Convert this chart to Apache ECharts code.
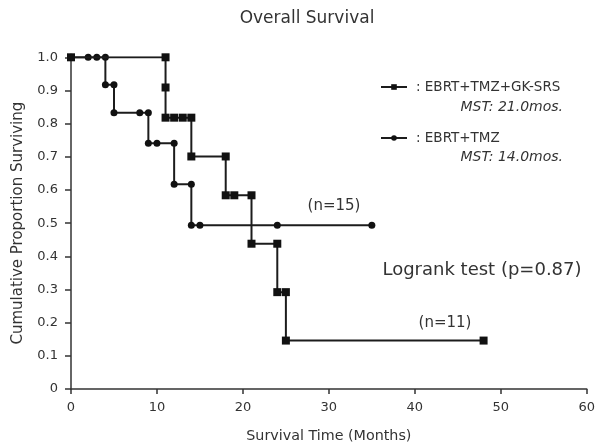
<!DOCTYPE html>
<html>
<head>
<meta charset="utf-8">
<script src="https://cdn.jsdelivr.net/npm/echarts@6/dist/echarts.min.js"></script>
<style>html,body{margin:0;padding:0;background:#fff}#c{width:598px;height:448px}</style>
</head>
<body>
<div id="c"></div>
<script>
// Kaplan-Meier step points (month, cumulative proportion surviving)
const gkMonths = [0, 11, 11, 11, 12, 13, 14, 14, 18, 18, 19, 21, 21, 24, 24, 25, 25, 48];
const gkSurv   = [1.0, 1.0, 0.909, 0.818, 0.818, 0.818, 0.818, 0.701, 0.701, 0.584, 0.584, 0.584, 0.438, 0.438, 0.292, 0.292, 0.146, 0.146];
const ctlMonths = [0, 2, 3, 4, 4, 5, 5, 8, 9, 9, 10, 12, 12, 14, 14, 15, 24, 35];
const ctlSurv   = [1.0, 1.0, 1.0, 1.0, 0.917, 0.917, 0.833, 0.833, 0.833, 0.741, 0.741, 0.741, 0.617, 0.617, 0.494, 0.494, 0.494, 0.494];
const seriesNames = [': EBRT+TMZ+GK-SRS', ': EBRT+TMZ'];
const mstLabels = ['MST: 21.0mos.', 'MST: 14.0mos.'];
const xTicks = [0, 10, 20, 30, 40, 50, 60];
const yTicks = [0, 0.1, 0.2, 0.3, 0.4, 0.5, 0.6, 0.7, 0.8, 0.9, 1.0];

const FONT = 'DejaVu Sans';
const INK = '#333';
const LINE = '#1c1c1c';

const chart = echarts.init(document.getElementById('c'), null, {renderer: 'canvas'});
const zip = (a, b) => a.map((v, i) => [v, b[i]]);

chart.setOption({
  animation: false,
  backgroundColor: '#fff',
  textStyle: {fontFamily: FONT},
  title: {
    text: 'Overall Survival',
    left: 302, top: 5, textAlign: 'center',
    textStyle: {fontFamily: FONT, fontSize: 17, fontWeight: 'normal', color: INK}
  },
  grid: {left: 71, right: 8.5, top: 57.3, bottom: 56.3, containLabel: false},
  legend: {
    orient: 'vertical',
    left: 375, top: 74,
    itemWidth: 26, itemHeight: 7,
    itemGap: 35,
    data: seriesNames,
    textStyle: {fontFamily: FONT, fontSize: 13.5, color: INK, lineHeight: 16, padding: [0, 0, 0, 4]}
  },
  xAxis: {
    type: 'value', min: xTicks[0], max: xTicks[xTicks.length - 1], interval: 10,
    name: 'Survival Time (Months)', nameLocation: 'middle', nameGap: 40,
    nameTextStyle: {fontFamily: FONT, fontSize: 14.3, color: INK},
    axisLine: {show: true, lineStyle: {color: INK, width: 1.5}},
    axisTick: {show: true, length: 5, lineStyle: {color: INK, width: 1.5}},
    axisLabel: {fontFamily: FONT, fontSize: 13, color: INK, margin: 12},
    splitLine: {show: false}
  },
  yAxis: {
    type: 'value', min: yTicks[0], max: yTicks[yTicks.length - 1], interval: 0.1,
    name: 'Cumulative Proportion Surviving', nameLocation: 'middle', nameGap: 45,
    nameTextStyle: {fontFamily: FONT, fontSize: 15, color: INK},
    axisLine: {show: true, lineStyle: {color: INK, width: 1.5}},
    axisTick: {show: true, length: 6, lineStyle: {color: INK, width: 1.5}},
    axisLabel: {fontFamily: FONT, fontSize: 13, color: INK, margin: 13,
      formatter: v => (Math.abs(v) < 1e-9 ? '0' : v.toFixed(1))},
    splitLine: {show: false}
  },
  graphic: [
    {type: 'text', x: 563, y: 107, style: {text: mstLabels[0], font: 'italic 14px "DejaVu Sans"', fill: INK, align: 'right', verticalAlign: 'middle'}},
    {type: 'text', x: 563, y: 157, style: {text: mstLabels[1], font: 'italic 14px "DejaVu Sans"', fill: INK, align: 'right', verticalAlign: 'middle'}},
    {type: 'text', x: 334, y: 206, style: {text: '(n=15)', font: '15px "DejaVu Sans"', fill: INK, align: 'center', verticalAlign: 'middle'}},
    {type: 'text', x: 445, y: 323, style: {text: '(n=11)', font: '15px "DejaVu Sans"', fill: INK, align: 'center', verticalAlign: 'middle'}},
    {type: 'text', x: 482, y: 270, style: {text: 'Logrank test (p=0.87)', font: '18px "DejaVu Sans"', fill: INK, align: 'center', verticalAlign: 'middle'}}
  ],
  series: [
    {
      name: seriesNames[0], type: 'line', data: zip(gkMonths, gkSurv),
      symbol: 'rect', symbolSize: 8, showAllSymbol: true, z: 3,
      lineStyle: {color: LINE, width: 2}, itemStyle: {color: '#111', borderWidth: 0}
    },
    {
      name: seriesNames[1], type: 'line', data: zip(ctlMonths, ctlSurv),
      symbol: 'circle', symbolSize: 7, showAllSymbol: true, z: 2,
      lineStyle: {color: LINE, width: 2}, itemStyle: {color: '#111', borderWidth: 0}
    }
  ]
});
</script>
</body>
</html>
